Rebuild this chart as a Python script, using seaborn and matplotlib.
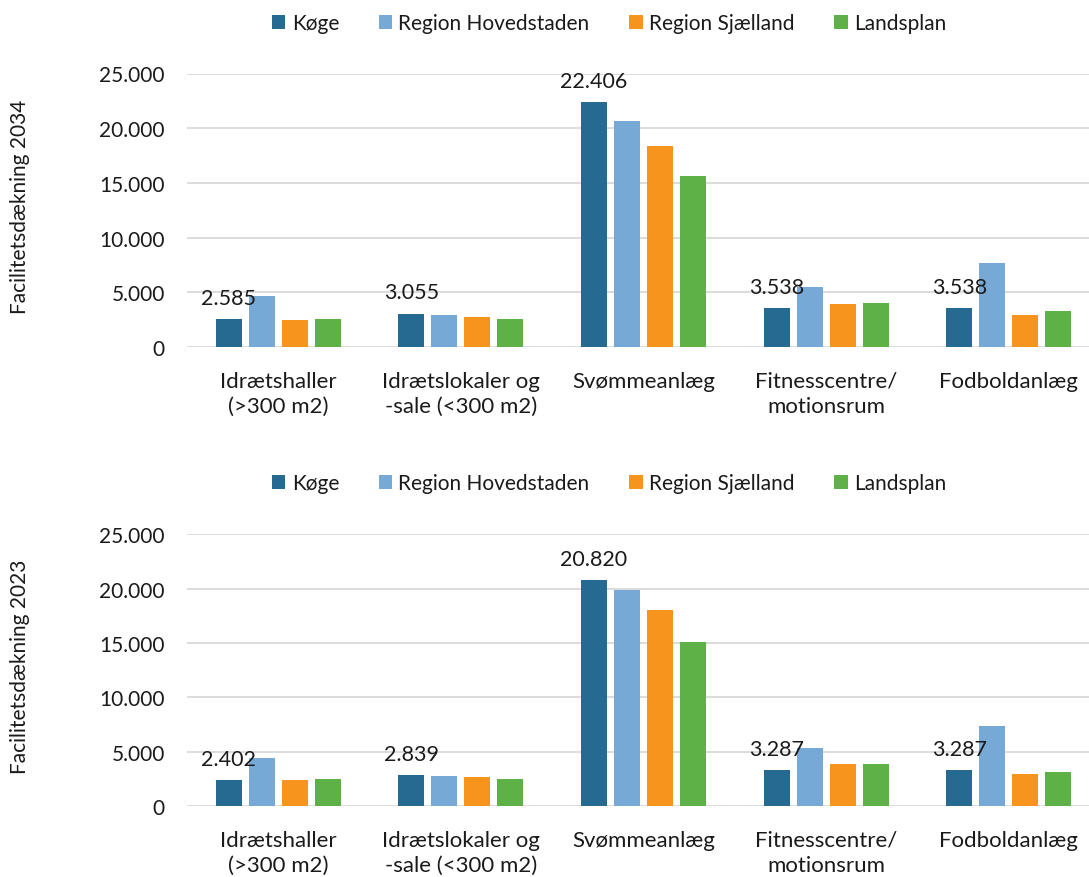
import matplotlib
matplotlib.use("Agg")
import matplotlib.pyplot as plt
import matplotlib.ticker as mticker
import pandas as pd
import seaborn as sns

# Facility categories (x axis)
categories = [
    "Idrætshaller\n(>300 m2)",
    "Idrætslokaler og\n-sale (<300 m2)",
    "Svømmeanlæg",
    "Fitnesscentre/\nmotionsrum",
    "Fodboldanlæg",
]
series = ["Køge", "Region Hovedstaden", "Region Sjælland", "Landsplan"]
colors = ["#266991", "#77A9D7", "#F7941E", "#5EB146"]

# Facility coverage 2034
koege_2034 = [2585, 3055, 22406, 3538, 3538]
hovedstaden_2034 = [4620, 2880, 20680, 5510, 7650]
sjaelland_2034 = [2445, 2720, 18410, 3915, 2970]
landsplan_2034 = [2600, 2600, 15650, 3980, 3270]

# Facility coverage 2023
koege_2023 = [2402, 2839, 20820, 3287, 3287]
hovedstaden_2023 = [4450, 2760, 19890, 5310, 7370]
sjaelland_2023 = [2395, 2640, 18070, 3840, 2920]
landsplan_2023 = [2515, 2490, 15120, 3870, 3160]

y_ticks = [0, 5000, 10000, 15000, 20000, 25000]

panels = [
    ("Facilitetsdækning 2034", [koege_2034, hovedstaden_2034, sjaelland_2034, landsplan_2034]),
    ("Facilitetsdækning 2023", [koege_2023, hovedstaden_2023, sjaelland_2023, landsplan_2023]),
]

sns.set_theme(style="white")
plt.rcParams["font.family"] = ["Lato", "DejaVu Sans"]
TEXT = "#1a1a1a"


def dk_thousands(v, _pos=None):
    return f"{int(round(v)):,}".replace(",", ".")


W, H = 1089, 878
fig = plt.figure(figsize=(W / 100, H / 100), dpi=100)

# axes boxes in pixels: (left, top, right, bottom)
boxes = [(187, 74.5, 1100, 348), (187, 535.3, 1100, 807)]
legend_y = [24, 484]

for (ylabel, values), (l, t, r, b), ly in zip(panels, boxes, legend_y):
    ax = fig.add_axes([l / W, 1 - b / H, (r - l) / W, (b - t) / H])
    df = pd.DataFrame(
        [(c, s, v) for s, vals in zip(series, values) for c, v in zip(categories, vals)],
        columns=["kategori", "serie", "værdi"],
    )
    sns.barplot(
        data=df, x="kategori", y="værdi", hue="serie",
        order=categories, hue_order=series, palette=colors,
        width=0.723, gap=0.21, errorbar=None, linewidth=0,
        ax=ax, legend=False, saturation=1,
    )
    ax.set_ylim(0, 25000)
    ax.set_yticks(y_ticks)
    ax.yaxis.set_major_formatter(mticker.FuncFormatter(dk_thousands))
    ax.grid(axis="y", color="#D9D9D9", linewidth=1.3)
    ax.set_axisbelow(True)
    for sp in ax.spines.values():
        sp.set_visible(False)
    ax.tick_params(axis="both", length=0, colors=TEXT)
    ax.tick_params(axis="y", pad=16, labelsize=15)
    ax.tick_params(axis="x", pad=17, labelsize=16)
    for lab in ax.get_xticklabels():
        lab.set_linespacing(1.35)
    ax.set_xlabel("")
    ax.set_ylabel("")

    # value labels on the Køge bars
    ax.bar_label(ax.containers[0], labels=[dk_thousands(v) for v in values[0]],
                 padding=8, fontsize=15.5, color=TEXT)

    fig.text(20 / W, 1 - ((t + b) / 2 - 4) / H, ylabel, rotation=90,
             ha="center", va="center", fontsize=15, color=TEXT)

    handles = [plt.Rectangle((0, 0), 1, 1, facecolor=c, edgecolor="none") for c in colors]
    fig.legend(handles, series, loc="center", bbox_to_anchor=(609 / W, 1 - ly / H),
               ncol=4, frameon=False, fontsize=15, handlelength=0.65, handleheight=0.65,
               handletextpad=0.3, columnspacing=1.9, labelcolor=TEXT)

fig.savefig("out.png", dpi=100)
